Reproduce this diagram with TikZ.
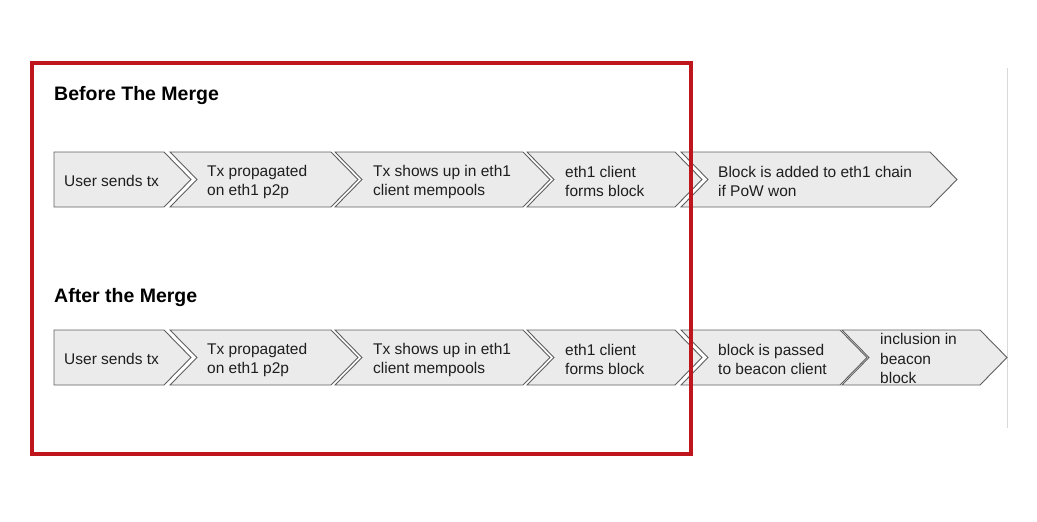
\documentclass[tikz,border=0pt]{standalone}
\usepackage{fontspec}
\setmainfont{Liberation Sans}
\usepackage{tikz}
\usetikzlibrary{positioning}

\definecolor{mergered}{RGB}{190,22,28}
\definecolor{chevfill}{RGB}{235,235,235}
\definecolor{chevline}{RGB}{95,95,95}
\definecolor{sideline}{RGB}{217,217,217}
\definecolor{txt}{RGB}{30,30,30}

\tikzset{
	chev/.style={draw=chevline, fill=chevfill, line width=0.9pt, line join=miter},
	lbl/.style={anchor=west, align=left, inner sep=0pt, text=txt,
		font=\fontsize{15.5}{19.5}\selectfont},
	title/.style={anchor=base west, inner sep=0pt,
		font=\fontsize{19.5}{23}\selectfont\bfseries}
}

\begin{document}
\begin{tikzpicture}[x=1pt,y=-1pt]
			\useasboundingbox (0,0) rectangle (1037,522);

			\draw[sideline, line width=0.8pt] (1007,68) -- (1007,428);

			% before the merge
			\node[title] (before) at (54,100) {Before The Merge};
			\draw[chev] (54,152) -- (164,152) -- (191,179.5) -- (164,207) -- (54,207) -- cycle;
			\foreach \l/\t in {170/358, 335/550, 527/702, 681/957}
				\draw[chev] (\l,152) -- (\t-27,152) -- (\t,179.5) -- (\t-27,207) -- (\l,207) -- (\l+27,179.5) -- cycle;

			\node[lbl] (b1) at (64,180.5) {User sends tx};
			\node[lbl] (b2) at (207,182) {Tx propagated\\on eth1 p2p};
			\node[lbl] (b3) at (373,182) {Tx shows up in eth1\\client mempools};
			\node[lbl] (b4) at (565,181.5) {eth1 client\\forms block};
			\node[lbl] (b5) at (718,181.5) {Block is added to eth1 chain\\if PoW won};

			% after the merge
			\node[title] (after) at (54,302) {After the Merge};
			\draw[chev] (54,330) -- (164,330) -- (191,357.5) -- (164,385) -- (54,385) -- cycle;
			\foreach \l/\t in {170/358, 335/550, 527/702, 681/867, 842/1007}
				\draw[chev] (\l,330) -- (\t-27,330) -- (\t,357.5) -- (\t-27,385) -- (\l,385) -- (\l+27,357.5) -- cycle;

			\node[lbl] (a1) at (64,358.5) {User sends tx};
			\node[lbl] (a2) at (207,360) {Tx propagated\\on eth1 p2p};
			\node[lbl] (a3) at (373,360) {Tx shows up in eth1\\client mempools};
			\node[lbl] (a4) at (565,359.5) {eth1 client\\forms block};
			\node[lbl] (a5) at (718,359.5) {block is passed\\to beacon client};
			\node[lbl] (a6) at (880,358.5) {inclusion in\\beacon\\block};

			\draw[mergered, line width=4pt] (32,63) rectangle (691,454);
\end{tikzpicture}
\end{document}
